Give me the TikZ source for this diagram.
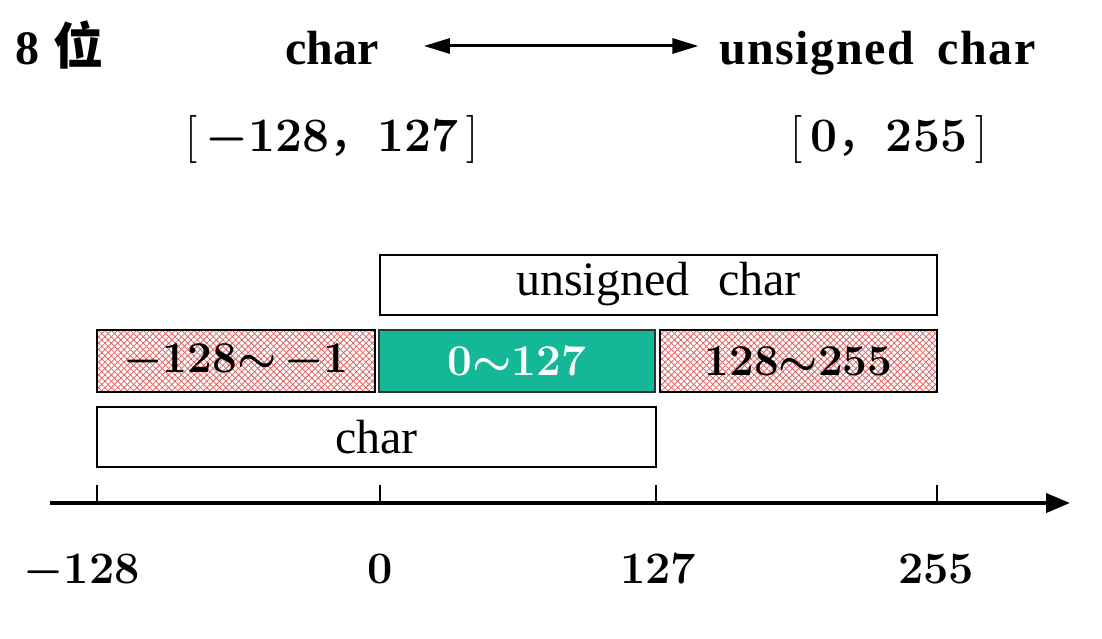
\documentclass[tikz,border=0pt]{standalone}
\usepackage{fix-cm}
\usepackage{fontspec}
\usepackage{xcolor}
\newfontfamily\wordfont{Liberation Serif}
\newfontfamily\cjk{Noto Sans CJK SC}
\usetikzlibrary{arrows.meta,patterns.meta}
\definecolor{range-green}{RGB}{20,184,150}
\definecolor{hatch-red}{RGB}{226,96,96}
\tikzset{
    range-box/.style = {draw, line width=2pt, inner sep=0pt, minimum height=60pt, font=\wordfont\fontsize{48}{52}\selectfont},
    hatch-box/.style = {range-box, font=\fontsize{44}{48}\selectfont\bfseries\boldmath,
        pattern={Lines[angle=45,distance=4.5pt,line width=0.8pt]}, pattern color=hatch-red,
        postaction={pattern={Lines[angle=-45,distance=4.5pt,line width=0.8pt]}, pattern color=hatch-red},
        postaction={draw, line width=2pt}},
    green-box/.style = {range-box, fill=range-green, draw=black!80, line width=1.5pt, text=white, font=\fontsize{44}{48}\selectfont\bfseries\boldmath},
    title-text/.style = {anchor=base, inner sep=0pt, font=\wordfont\fontsize{48}{52}\selectfont\bfseries},
    range-text/.style = {anchor=base, inner sep=0pt, font=\fontsize{48}{52}\selectfont\boldmath},
    tick-label/.style = {anchor=base, inner sep=0pt, font=\fontsize{45}{50}\selectfont\bfseries\boldmath},
}

\begin{document}
\begin{tikzpicture}[x=1pt, y=-1pt]
\useasboundingbox (0,0) rectangle (1102,639);
% titles
\node[title-text, anchor=base west] (bits) at (15,65) {8\hspace{14pt}{\cjk\fontsize{50}{54}\selectfont\bfseries 位}};
\node[title-text] (tchar) at (332,65) {char};
\node[title-text] (tuchar) at (877.5,65) {\addfontfeature{LetterSpace=3}unsigned\hspace{0.5em}char};
\draw[line width=3pt, {Triangle[length=26pt,width=15pt]}-{Triangle[length=26pt,width=15pt]}, shorten <=45pt, shorten >=21pt]
    ([yshift=19pt]tchar.base east) -- ([yshift=19pt]tuchar.base west);
\node[range-text] (rchar) at (332,152) {[\,$-$\textbf{128}{\cjk ，}\textbf{127}\,]};
\node[range-text] (ruchar) at (889,152) {[\,\textbf{0}{\cjk ，}\textbf{255}\,]};
% ranges
\node[range-box, minimum width=557pt] (ubox) at (658.5,284.5) {unsigned\hspace{0.6em}char};
\node[hatch-box, minimum width=278pt, minimum height=62pt] (neg) at (236,361) {$-$128$\sim$\hspace{8pt}$-$1};
\node[green-box, minimum width=276pt, minimum height=62pt] (low) at (517,361) {0$\sim$127};
\node[hatch-box, minimum width=277pt, minimum height=62pt] (high) at (798.5,361) {128$\sim$255};
\node[range-box, minimum width=559pt] (cbox) at (376.5,437) {char};
% axis
\coordinate (axstart) at (50,503);
\coordinate (axend) at (1070,503);
\draw[line width=4pt, -{Triangle[length=24pt,width=19pt]}] (axstart) -- (axend);
\foreach \x/\name in {97/m, 380/z, 656/a, 937/b} {
    \coordinate (tick-\name) at (\x,485);
    \draw[line width=1.5pt] (tick-\name) -- (\x,503);
}
\node[tick-label, anchor=base east] (lab-m) at (140,583) {$-$128};
\node[tick-label] (lab-z) at (380,583) {0};
\node[tick-label] (lab-a) at (658,583) {127};
\node[tick-label] (lab-b) at (936,583) {255};
\end{tikzpicture}
\end{document}
